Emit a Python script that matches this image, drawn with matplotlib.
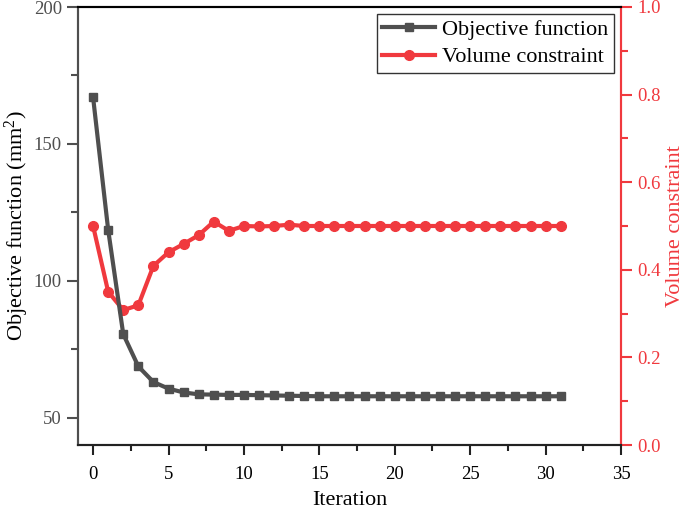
import matplotlib
matplotlib.use("Agg")
import matplotlib.pyplot as plt
from matplotlib.ticker import MultipleLocator
import numpy as np

plt.rcParams['font.family'] = ['Liberation Serif', 'DejaVu Serif']
plt.rcParams['mathtext.fontset'] = 'custom'
plt.rcParams['mathtext.rm'] = 'Liberation Serif'
plt.rcParams['mathtext.it'] = 'Liberation Serif:italic'

iterations = list(range(32))
objective = [167.0, 118.6, 80.5, 68.7, 63.0, 60.6, 59.2, 58.5, 58.4, 58.3,
             58.3, 58.2, 58.1, 58.0, 57.9, 57.8, 57.8, 57.8, 57.8, 57.8,
             57.8, 57.8, 57.8, 57.8, 57.8, 57.8, 57.8, 57.8, 57.8, 57.8,
             57.8, 57.8]
volume = [0.50, 0.35, 0.308, 0.319, 0.409, 0.44, 0.459, 0.479, 0.51, 0.489,
          0.50, 0.499, 0.50, 0.503, 0.50, 0.50, 0.50, 0.50, 0.50, 0.50,
          0.50, 0.50, 0.50, 0.50, 0.50, 0.50, 0.50, 0.50, 0.50, 0.50,
          0.50, 0.50]

gray = '#4f4f4f'
red = '#f0393e'

fig = plt.figure(figsize=(6.85, 5.12), dpi=100)
ax = fig.add_axes([78/685, 1-445/512, (621-78)/685, (445-7)/512])
ax2 = ax.twinx()

l1, = ax.plot(iterations, objective, color=gray, lw=3, marker='s', ms=6, label='Objective function')
l2, = ax2.plot(iterations, volume, color=red, lw=3, marker='o', ms=7, label='Volume constraint')

ax.set_xlim(-1, 35)
ax.set_ylim(40, 200)
ax2.set_ylim(0, 1.0)

ax.xaxis.set_major_locator(MultipleLocator(5))
ax.xaxis.set_minor_locator(MultipleLocator(2.5))
ax.yaxis.set_major_locator(MultipleLocator(50))
ax.yaxis.set_minor_locator(MultipleLocator(25))
ax2.yaxis.set_major_locator(MultipleLocator(0.2))
ax2.yaxis.set_minor_locator(MultipleLocator(0.1))
ax2.yaxis.set_major_formatter(matplotlib.ticker.FormatStrFormatter('%.1f'))

for s in ['left', 'bottom', 'top', 'right']:
    ax.spines[s].set_linewidth(1.5)
    ax2.spines[s].set_linewidth(1.5)
ax.spines['left'].set_color(gray)
ax2.spines['left'].set_color(gray)
ax.spines['bottom'].set_color('#222222')
ax2.spines['bottom'].set_color('#222222')
ax.spines['top'].set_color('black')
ax2.spines['top'].set_color('black')
ax2.spines['right'].set_color(red)
ax.spines['right'].set_color(red)

ax.tick_params(axis='y', which='major', direction='out', length=8, width=1.5, color=gray, labelcolor=gray, labelsize=13.5)
ax.tick_params(axis='y', which='minor', direction='out', length=5, width=1.5, color=gray)
ax.tick_params(axis='x', which='major', direction='out', length=7, width=1.5, color='#222222', labelcolor='black', labelsize=13.5, pad=8)
ax.tick_params(axis='x', which='minor', direction='out', length=4, width=1.5, color='#222222')
ax2.tick_params(axis='y', which='major', direction='out', length=8, width=1.5, color=red, labelcolor=red, labelsize=13.5)
ax2.tick_params(axis='y', which='minor', direction='out', length=5, width=1.5, color=red)

ax.set_xlabel('Iteration', fontsize=16, labelpad=6)
ax.set_ylabel('Objective function (mm$^2$)', fontsize=16, labelpad=2)
ax2.set_ylabel('Volume constraint', fontsize=16, color=red, labelpad=4)

leg = ax.legend([l1, l2], ['Objective function', 'Volume constraint'], loc='upper right',
                bbox_to_anchor=(1.0, 1.0), fontsize=16, frameon=True, fancybox=False,
                edgecolor='black', handlelength=2.4, handletextpad=0.3, borderpad=0.25,
                labelspacing=0.3, borderaxespad=0.32)
leg.get_frame().set_linewidth(1.0)
ax.set_zorder(ax2.get_zorder() + 1)
ax.patch.set_visible(False)

fig.savefig('out.png', dpi=100)
